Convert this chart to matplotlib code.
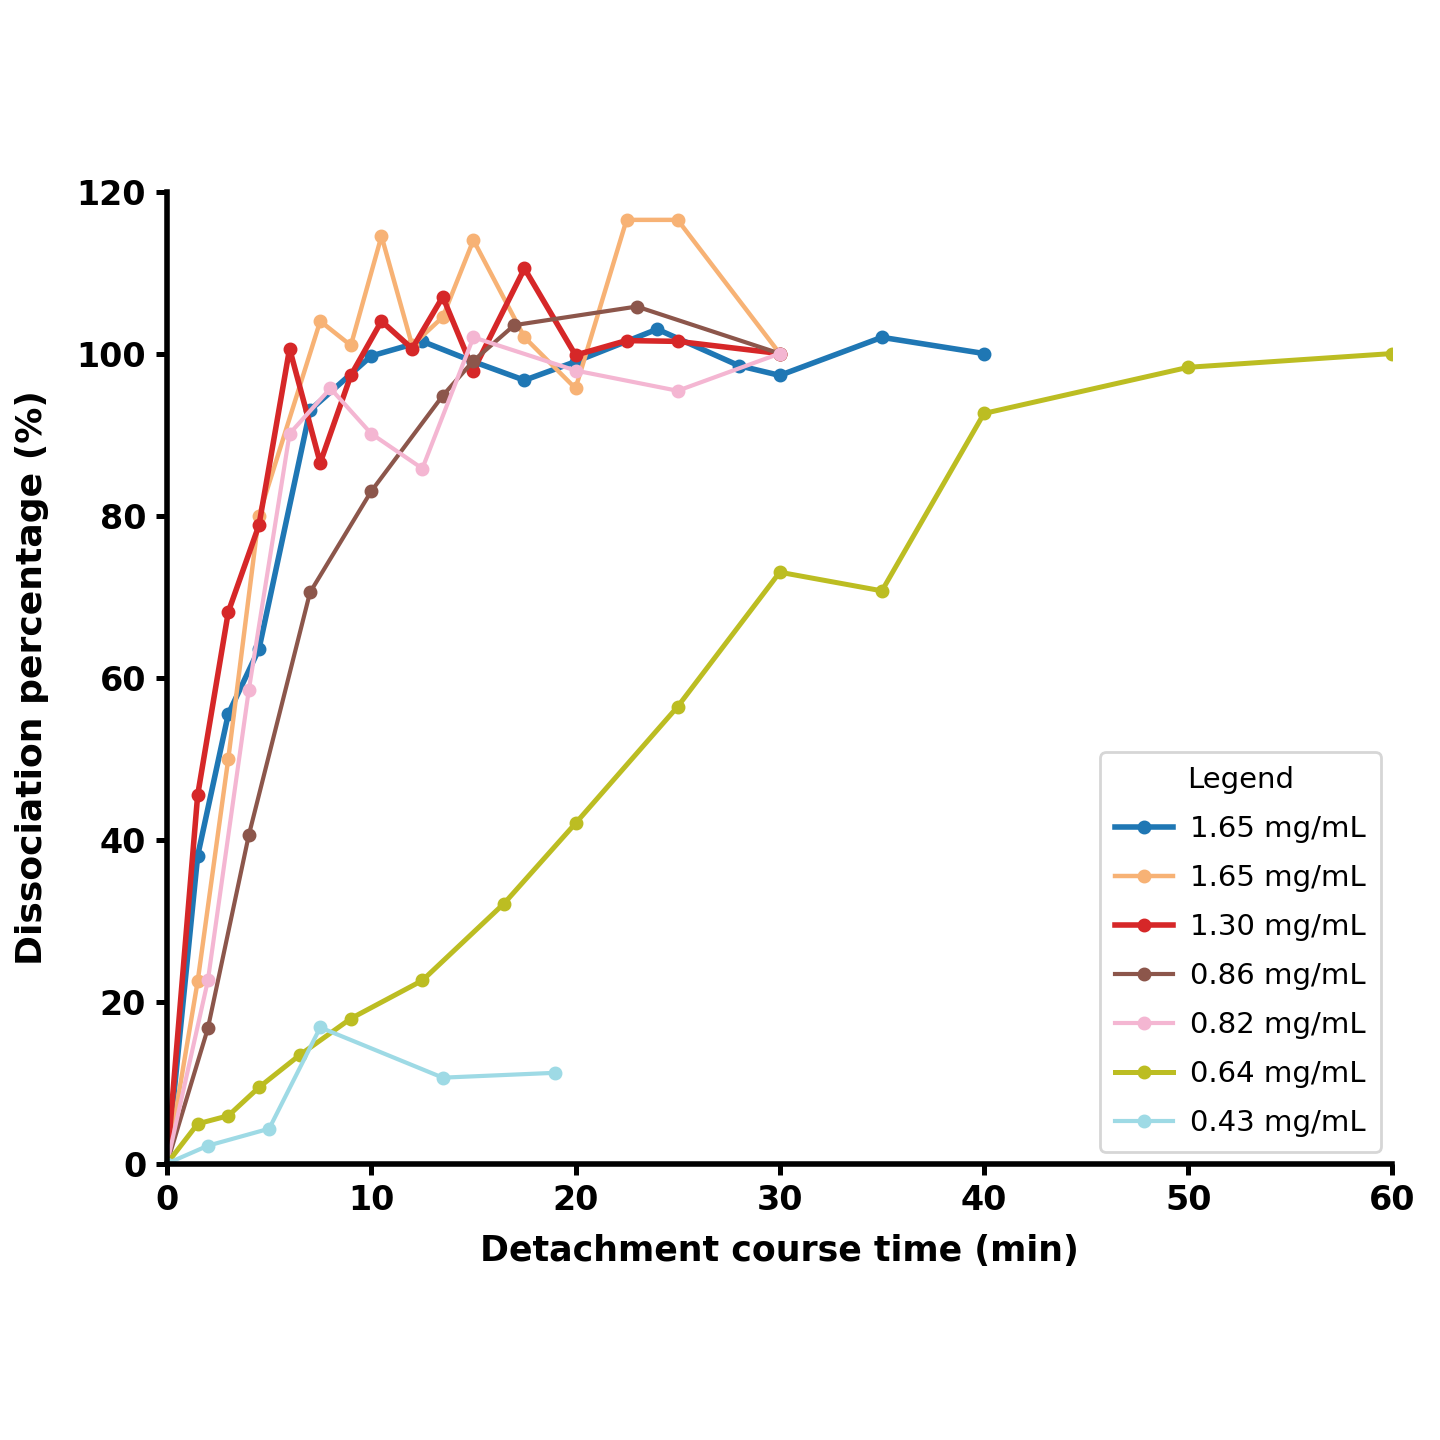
import matplotlib
matplotlib.use("Agg")
import matplotlib.pyplot as plt


# -----------------------------
# Data
# -----------------------------

OUTPUT_FILE = "out.png"

labels = [
  "1.65 mg/mL", "1.65 mg/mL", "1.30 mg/mL", "0.86 mg/mL",
  "0.82 mg/mL", "0.64 mg/mL", "0.43 mg/mL",
]

colors = ["#1f77b4", "#f7b275", "#d62728", "#8c564b", "#f4b6d2", "#bcbd22", "#9edae5"]
widths = [2.0, 1.6, 2.0, 1.5, 1.5, 1.8, 1.5]

t_165a = [0, 1.5, 3, 4.5, 7, 10, 12.5, 15, 17.5, 20, 24, 28, 30, 35, 40]
v_165a = [0, 38, 55.5, 63.5, 93, 99.7, 101.5, 99, 96.7, 99, 103, 98.5, 97.3, 102, 100]

t_165b = [0, 1.5, 3, 4.5, 7.5, 9, 10.5, 12, 13.5, 15, 17.5, 20, 22.5, 25, 30]
v_165b = [0, 22.5, 50, 80, 104, 101, 114.5, 101, 104.5, 114, 102, 95.7, 116.5, 116.5, 100]

t_130 = [0, 1.5, 3, 4.5, 6, 7.5, 9, 10.5, 12, 13.5, 15, 17.5, 20, 22.5, 25, 30]
v_130 = [0, 45.5, 68.1, 78.8, 100.6, 86.5, 97.3, 104, 100.6, 107, 97.9, 110.5, 99.8, 101.6, 101.5, 100]

t_086 = [0, 2, 4, 7, 10, 13.5, 15, 17, 23, 30]
v_086 = [0, 16.7, 40.5, 70.5, 83, 94.8, 99.1, 103.5, 105.8, 100]

t_082 = [0, 2, 4, 6, 8, 10, 12.5, 15, 20, 25, 30]
v_082 = [0, 22.6, 58.4, 90.1, 95.7, 90.1, 85.8, 102, 97.9, 95.4, 100]

t_064 = [0, 1.5, 3, 4.5, 6.5, 9, 12.5, 16.5, 20, 25, 30, 35, 40, 50, 60]
v_064 = [0, 4.9, 5.9, 9.4, 13.4, 17.9, 22.6, 32.1, 42, 56.4, 73, 70.7, 92.6, 98.3, 100]

t_043 = [0, 2, 5, 7.5, 13.5, 19]
v_043 = [0, 2.2, 4.3, 16.8, 10.6, 11.2]

series = [
  (t_165a, v_165a), (t_165b, v_165b), (t_130, v_130), (t_086, v_086),
  (t_082, v_082), (t_064, v_064), (t_043, v_043),
]


# -----------------------------
# Plot
# -----------------------------

fig = plt.figure(figsize=(7.2, 7.2), dpi=200)
ax = fig.add_axes([0.116, 0.192, 0.851, 0.675])

for (t, v), lab, c, lw in zip(series, labels, colors, widths):
  ax.plot(t, v, color=c, lw=lw, marker="o", ms=4, label=lab)

ax.set_xlim(0, 60)
ax.set_ylim(0, 120)
ax.set_xticks([0, 10, 20, 30, 40, 50, 60])
ax.set_yticks([0, 20, 40, 60, 80, 100, 120])

for side in ["top", "right"]:
  ax.spines[side].set_visible(False)
for side in ["left", "bottom"]:
  ax.spines[side].set_linewidth(2)

ax.tick_params(width=1.8, length=4, labelsize=12)
for lbl in ax.get_xticklabels() + ax.get_yticklabels():
  lbl.set_fontweight("bold")

ax.set_xlabel("Detachment course time (min)", fontsize=12.5, fontweight="bold", labelpad=6)
ax.set_ylabel("Dissociation percentage (%)", fontsize=13, fontweight="bold", labelpad=10)

ax.legend(
  title="Legend", loc="lower right", fontsize=10.5, title_fontsize=10.5,
  frameon=True, borderaxespad=0.4, handlelength=2.0, labelspacing=0.72,
  borderpad=0.5, handletextpad=0.6,
)


# -----------------------------
# Save
# -----------------------------

fig.savefig(OUTPUT_FILE, dpi=200)
plt.close(fig)

print(f"Saved: {OUTPUT_FILE}")
